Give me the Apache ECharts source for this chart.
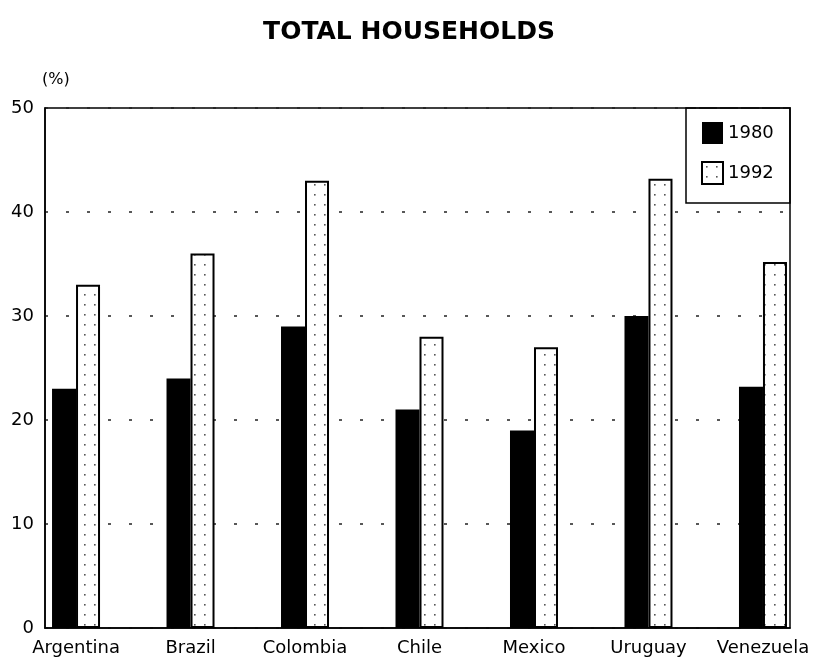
<!DOCTYPE html>
<html>
<head>
    <meta charset="UTF-8">
    <title>Total Households</title>
    <script src="https://cdn.jsdelivr.net/npm/echarts@6.0.0/dist/echarts.min.js"></script>
    <style>
        body { margin: 0; padding: 0; background: #fff; }
        #chart { width: 818px; height: 658px; }
    </style>
</head>
<body>
    <div id="chart"></div>
    <script>
        // data
        const countries = ['Argentina', 'Brazil', 'Colombia', 'Chile', 'Mexico', 'Uruguay', 'Venezuela'];
        const values1980 = [23, 24, 29, 21, 19, 30, 23.2];
        const values1992 = [33, 36, 43, 28, 27, 43.2, 35.2];
        const yTicks = [0, 10, 20, 30, 40, 50];

        // dotted fill for 1992 bars
        const dotCanvas = document.createElement('canvas');
        dotCanvas.width = 10;
        dotCanvas.height = 10;
        const ctx = dotCanvas.getContext('2d');
        ctx.fillStyle = '#fff';
        ctx.fillRect(0, 0, 10, 10);
        ctx.fillStyle = '#555';
        ctx.fillRect(4, 4, 1.6, 1.6);
        const dots = { image: dotCanvas, repeat: 'repeat' };

        const font = 'DejaVu Sans';
        const chart = echarts.init(document.getElementById('chart'));
        chart.setOption({
            animation: false,
            backgroundColor: '#fff',
            title: {
                text: 'TOTAL HOUSEHOLDS',
                left: 'center',
                top: 15,
                textStyle: { fontFamily: font, fontSize: 25, fontWeight: 'bold', color: '#000' }
            },
            grid: {
                left: 45, right: 28, top: 108, bottom: 30,
                show: true, borderColor: '#000', borderWidth: 1.5
            },
            legend: {
                orient: 'vertical',
                left: 701,
                top: 122,
                padding: 0,
                itemWidth: 21,
                itemHeight: 22,
                itemGap: 17,
                icon: 'rect',
                textStyle: { fontFamily: font, fontSize: 18, color: '#000' }
            },
            xAxis: {
                type: 'value',
                min: -0.271,
                max: 6.236,
                splitLine: { show: false },
                axisTick: { show: false },
                axisLine: { show: true, lineStyle: { color: '#000', width: 1.5 } },
                axisLabel: {
                    customValues: countries.map((c, i) => i),
                    formatter: v => countries[Math.round(v)],
                    fontFamily: font, fontSize: 18, color: '#000', margin: 11
                }
            },
            yAxis: {
                type: 'value',
                min: yTicks[0],
                max: yTicks[yTicks.length - 1],
                interval: 10,
                name: '(%)',
                nameLocation: 'end',
                nameGap: 20,
                nameTextStyle: { fontFamily: font, fontSize: 16, color: '#000', align: 'left', padding: [0, 0, 0, -3] },
                axisLine: { show: true, onZero: false, lineStyle: { color: '#000', width: 1.5 } },
                axisTick: { show: false },
                axisLabel: { fontFamily: font, fontSize: 18, color: '#000', margin: 11 },
                splitLine: { show: true, lineStyle: { color: '#222', width: 1.5, type: [3, 18] } }
            },
            series: [
                {
                    name: '1980',
                    type: 'bar',
                    barWidth: 24,
                    barGap: '0%',
                    itemStyle: { color: '#000' },
                    data: values1980.map((v, i) => [i, v])
                },
                {
                    name: '1992',
                    type: 'bar',
                    barWidth: 24,
                    barGap: '0%',
                    itemStyle: { color: dots, borderColor: '#000', borderWidth: 2 },
                    data: values1992.map((v, i) => [i, v])
                }
            ],
            graphic: [{
                type: 'rect',
                shape: { x: 686, y: 108, width: 104, height: 95 },
                style: { fill: null, stroke: '#000', lineWidth: 1.5 },
                z: 0
            }]
        });
    </script>
</body>
</html>
